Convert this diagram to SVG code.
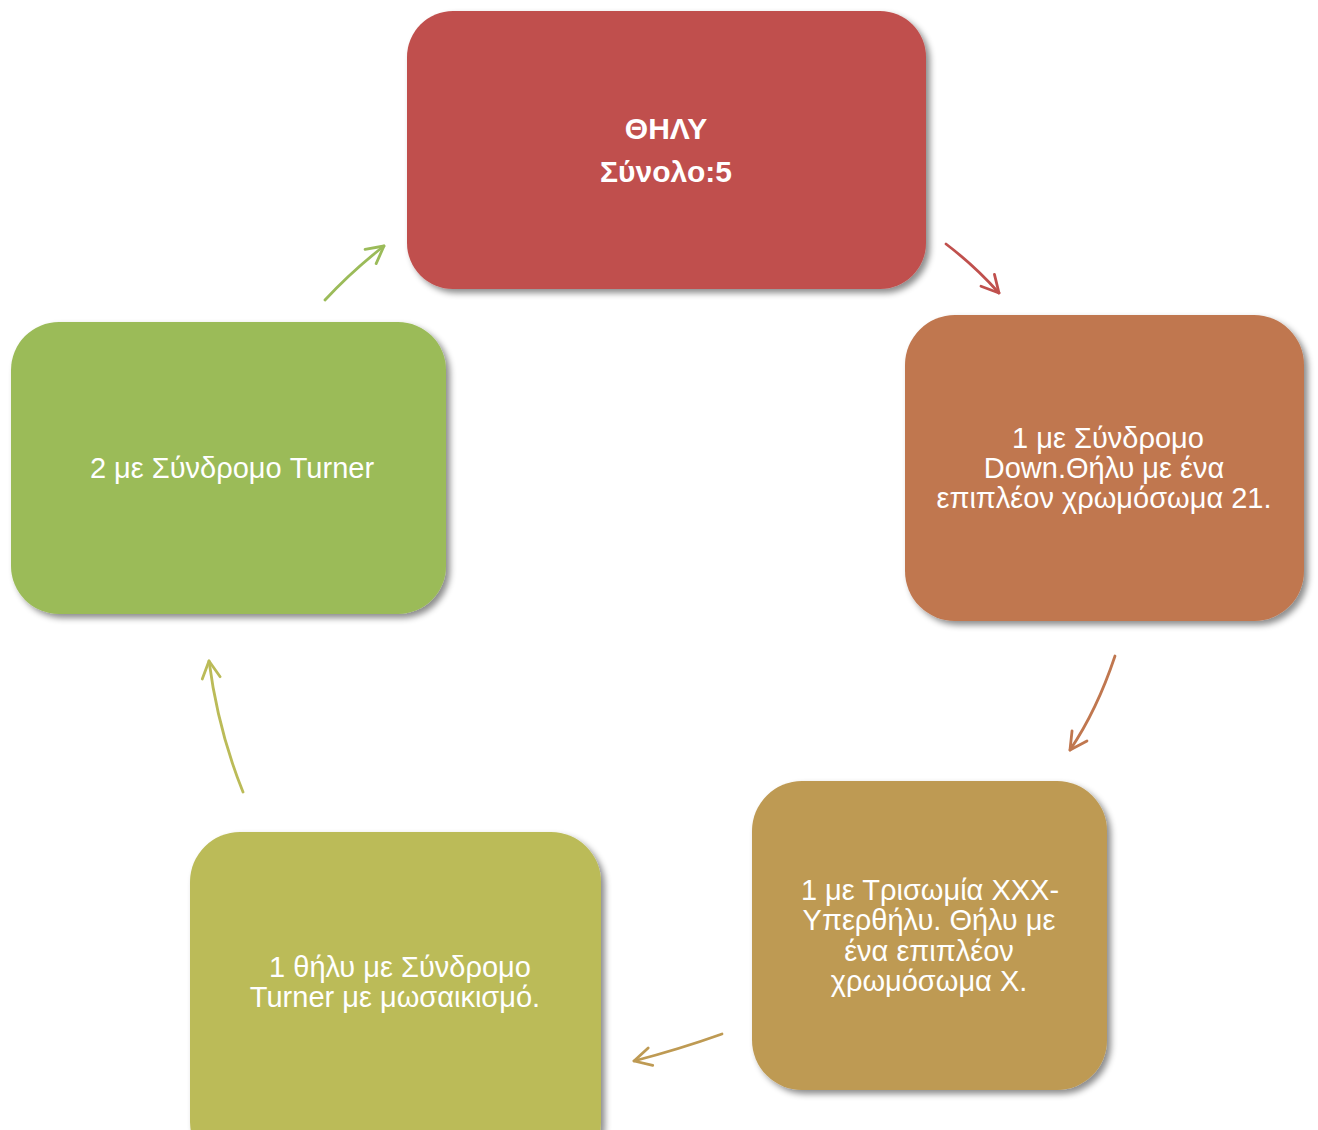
<svg xmlns="http://www.w3.org/2000/svg" width="1318" height="1130" viewBox="0 0 1318 1130">
<defs>
<filter id="sh" x="-10%" y="-10%" width="125%" height="125%">
<feDropShadow dx="4" dy="4" stdDeviation="3" flood-color="#000" flood-opacity="0.45"/>
</filter>
<marker id="m1" markerUnits="userSpaceOnUse" markerWidth="24" markerHeight="24" refX="20" refY="10" orient="auto" overflow="visible"><path d="M3,1 L20,10 L3,19" fill="none" stroke="#C0504D" stroke-width="2.8" stroke-linecap="round" stroke-linejoin="round"/></marker>
<marker id="m2" markerUnits="userSpaceOnUse" markerWidth="24" markerHeight="24" refX="20" refY="10" orient="auto" overflow="visible"><path d="M3,1 L20,10 L3,19" fill="none" stroke="#C0774F" stroke-width="2.8" stroke-linecap="round" stroke-linejoin="round"/></marker>
<marker id="m3" markerUnits="userSpaceOnUse" markerWidth="24" markerHeight="24" refX="20" refY="10" orient="auto" overflow="visible"><path d="M3,1 L20,10 L3,19" fill="none" stroke="#BE9A53" stroke-width="2.8" stroke-linecap="round" stroke-linejoin="round"/></marker>
<marker id="m4" markerUnits="userSpaceOnUse" markerWidth="24" markerHeight="24" refX="20" refY="10" orient="auto" overflow="visible"><path d="M3,1 L20,10 L3,19" fill="none" stroke="#BBBB58" stroke-width="2.8" stroke-linecap="round" stroke-linejoin="round"/></marker>
<marker id="m5" markerUnits="userSpaceOnUse" markerWidth="24" markerHeight="24" refX="20" refY="10" orient="auto" overflow="visible"><path d="M3,1 L20,10 L3,19" fill="none" stroke="#9BBB59" stroke-width="2.8" stroke-linecap="round" stroke-linejoin="round"/></marker>
</defs>
<style>
.box{filter:url(#sh)}
.t{font-family:"Liberation Sans",Arial,sans-serif;font-size:29px;fill:#fff;text-anchor:middle}
.b{font-weight:bold;font-size:30px}
.c{fill:none;stroke-width:2.8;stroke-linecap:round}
</style>
<rect width="1318" height="1130" fill="#fff"/>
<g id="connectors">
<path class="c" d="M946,244 Q975,266 999,293" stroke="#C0504D" marker-end="url(#m1)"/>
<path class="c" d="M1115,656 Q1097,710 1070,750" stroke="#C0774F" marker-end="url(#m2)"/>
<path class="c" d="M722,1034 Q680,1049 634,1061" stroke="#BE9A53" marker-end="url(#m3)"/>
<path class="c" d="M243,792 Q218,730 209,661" stroke="#BBBB58" marker-end="url(#m4)"/>
<path class="c" d="M325,300 Q352,271 384,246" stroke="#9BBB59" marker-end="url(#m5)"/>
</g>
<g id="node-top">
<rect class="box" x="407" y="11" width="519" height="278" rx="46" fill="#C0504D"/>
<text class="t b" x="666" y="139">ΘΗΛΥ</text>
<text class="t b" x="666" y="182">Σύνολο:5</text>
</g>
<g id="node-right">
<rect class="box" x="905" y="315" width="399" height="306" rx="50" fill="#C0774F"/>
<text class="t" x="1108" y="448">1 με Σύνδρομο</text>
<text class="t" x="1104" y="478">Down.Θήλυ με ένα</text>
<text class="t" x="1104" y="508">επιπλέον χρωμόσωμα 21.</text>
</g>
<g id="node-bottom-right">
<rect class="box" x="752" y="781" width="355" height="309" rx="50" fill="#BE9A53"/>
<text class="t" x="930" y="900">1 με Τρισωμία ΧΧΧ-</text>
<text class="t" x="929" y="930">Υπερθήλυ. Θήλυ με</text>
<text class="t" x="929" y="961">ένα επιπλέον</text>
<text class="t" x="929" y="991">χρωμόσωμα Χ.</text>
</g>
<g id="node-bottom-left">
<rect class="box" x="190" y="832" width="411" height="340" rx="50" fill="#BBBB58"/>
<text class="t" x="400" y="977">1 θήλυ με Σύνδρομο</text>
<text class="t" x="395" y="1007">Turner με μωσαικισμό.</text>
</g>
<g id="node-left">
<rect class="box" x="11" y="322" width="435" height="292" rx="48" fill="#9BBB59"/>
<text class="t" x="232" y="478">2 με Σύνδρομο Turner</text>
</g>
</svg>
